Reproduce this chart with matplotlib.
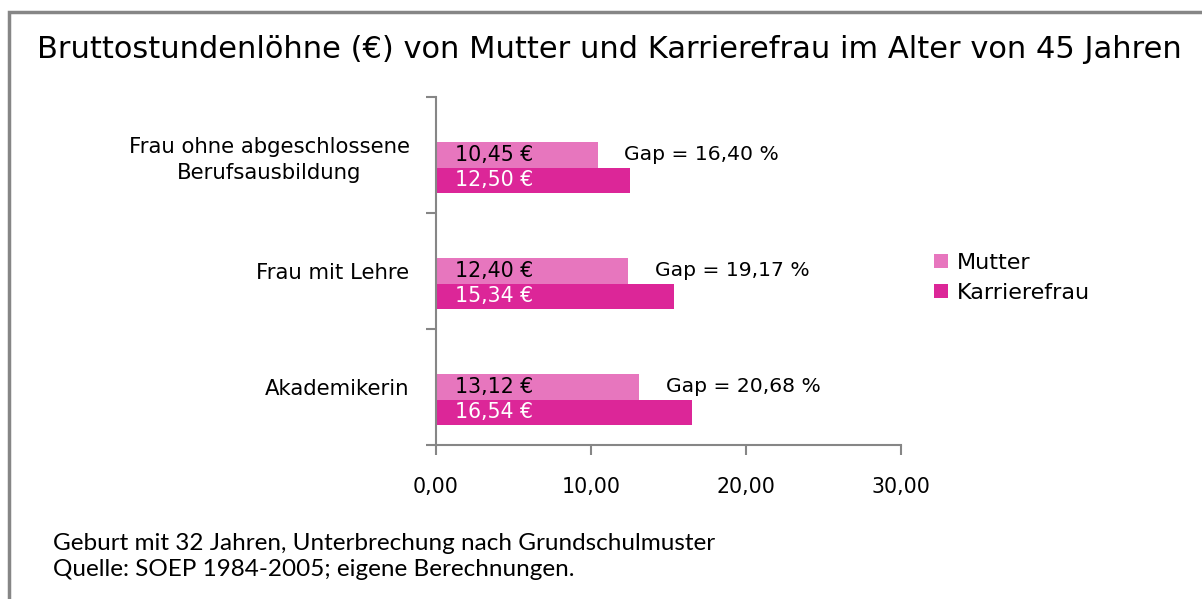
import matplotlib
matplotlib.use("Agg")
import matplotlib.pyplot as plt
from matplotlib.patches import Rectangle

categories = ["Frau ohne abgeschlossene\nBerufsausbildung", "Frau mit Lehre", "Akademikerin"]
mutter = [10.45, 12.40, 13.12]
karriere = [12.50, 15.34, 16.54]
gap_labels = ["Gap = 16,40 %", "Gap = 19,17 %", "Gap = 20,68 %"]
series_names = ["Mutter", "Karrierefrau"]
x_ticks = [0, 10, 20, 30]
x_tick_labels = ["0,00", "10,00", "20,00", "30,00"]
title = "Bruttostundenlöhne (€) von Mutter und Karrierefrau im Alter von 45 Jahren"
notes = ["Geburt mit 32 Jahren, Unterbrechung nach Grundschulmuster",
         "Quelle: SOEP 1984-2005; eigene Berechnungen."]

def euro(v):
    return f"{v:.2f}".replace(".", ",") + " €"

plt.rcParams['font.family'] = ['DejaVu Sans']
W, H = 1202, 599
fig = plt.figure(figsize=(W / 100, H / 100), dpi=100)

gray = "#868686"
c_mutter = "#E776BE"
c_karriere = "#DC2698"

# outer frame
fig.patches.append(Rectangle((9 / W, -0.05), 1.2, 1 - 12 / H + 0.05, transform=fig.transFigure,
                             fill=False, edgecolor=gray, linewidth=2.5))

ax = fig.add_axes([436 / W, 1 - 445 / H, (901 - 436) / W, (445 - 97) / H])
bh = 0.216
ys = list(range(len(categories)))
ax.barh([y for y in ys], mutter, height=bh, color=c_mutter, label=series_names[0])
ax.barh([y + bh for y in ys], karriere, height=bh, color=c_karriere, label=series_names[1])

fs_in = 14.8
for i, y in enumerate(ys):
    ax.annotate(euro(mutter[i]), (0, y), xytext=(13.5, 0), textcoords="offset points",
                ha="left", va="center", fontsize=fs_in, color="black")
    ax.annotate(euro(karriere[i]), (0, y + bh), xytext=(13.5, 0), textcoords="offset points",
                ha="left", va="center", fontsize=fs_in, color="white")
    ax.annotate(gap_labels[i], (mutter[i], y), xytext=(19, 0), textcoords="offset points",
                ha="left", va="center", fontsize=14.6, color="black")

ax.set_xlim(0, 30)
ax.set_ylim(2.5, -0.5)
ax.set_xticks(x_ticks)
ax.set_xticklabels(x_tick_labels, fontsize=14.8)
ax.set_yticks([-0.5, 0.5, 1.5, 2.5])
ax.set_yticklabels([])
ax.set_yticks(ys, minor=True)
ax.set_yticklabels(categories, minor=True, fontsize=15.3, multialignment="center", linespacing=1.4)
ax.tick_params(axis="y", which="minor", length=0, pad=19)
ax.tick_params(axis="y", which="major", length=7, color=gray, width=1.5, direction="out")
ax.tick_params(axis="x", length=7, color=gray, width=1.5, direction="out", pad=16)
for s in ["top", "right"]:
    ax.spines[s].set_visible(False)
for s in ["left", "bottom"]:
    ax.spines[s].set_color(gray)
    ax.spines[s].set_linewidth(1.5)

fig.legend(loc="upper left", bbox_to_anchor=(925 / W, 1 - 244 / H), frameon=False,
           fontsize=16, handlelength=0.65, handleheight=0.65, handletextpad=0.4,
           labelspacing=0.45, borderaxespad=0)

fig.text(37 / W, 1 - 50 / H, title, fontsize=22, ha="left", va="center")
fig.text(53 / W, 1 - 543 / H, notes[0], fontsize=17.5, ha="left", va="center", family="Lato")
fig.text(53 / W, 1 - 570 / H, notes[1], fontsize=17.5, ha="left", va="center", family="Lato")

fig.savefig("out.png", dpi=100)
